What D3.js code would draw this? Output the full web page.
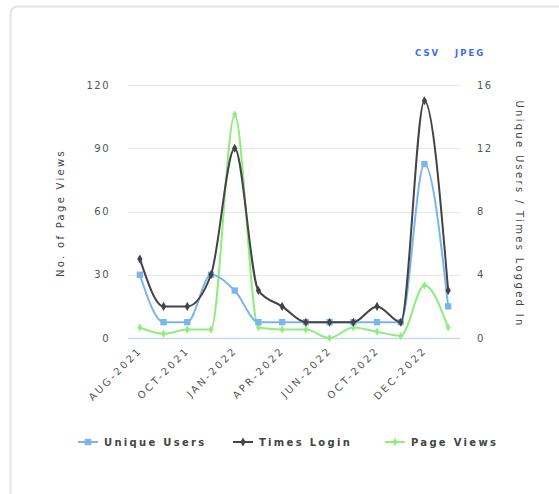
<!DOCTYPE html>
<html>
<head>
<meta charset="utf-8">
<script src="https://cdn.jsdelivr.net/npm/d3@7"></script>
<style>
  html, body { margin: 0; padding: 0; background: #fff; }
  body { width: 559px; height: 494px; overflow: hidden; }
  svg text { font-family: "DejaVu Sans", sans-serif; }
</style>
</head>
<body>
<svg id="chart" width="559" height="494"></svg>
<script>
// Months on the x axis (every other one is labelled)
var months = ["AUG-2021", "SEP-2021", "OCT-2021", "NOV-2021", "JAN-2022", "MAR-2022", "APR-2022",
  "MAY-2022", "JUN-2022", "AUG-2022", "OCT-2022", "NOV-2022", "DEC-2022", "JAN-2023"];
var uniqueUsers = [4, 1, 1, 4, 3, 1, 1, 1, 1, 1, 1, 1, 11, 2];
var timesLogin = [5, 2, 2, 4, 12, 3, 2, 1, 1, 1, 2, 1, 15, 3];
var pageViews = [5, 2, 4, 4, 106, 5, 4, 4, 0, 5, 3, 1, 25, 5];
var leftTicks = [0, 30, 60, 90, 120];
var rightTicks = [0, 4, 8, 12, 16];

var drawChart = function() {
  var svg = d3.select("#chart");

  // card outline
  svg.append("rect")
    .attr("x", 10.5).attr("y", 6.5)
    .attr("width", 600).attr("height", 520)
    .attr("rx", 7)
    .attr("fill", "#fff")
    .attr("stroke", "#e3e3e3")
    .attr("stroke-width", 2);

  var plotLeft = 128, plotRight = 460, plotTop = 85, plotBottom = 338;

  var x = d3.scalePoint().domain(months).range([plotLeft, plotRight]).padding(0.5);
  var yLeft = d3.scaleLinear().domain([0, 120]).range([plotBottom, plotTop]);
  var yRight = d3.scaleLinear().domain([0, 16]).range([plotBottom, plotTop]);

  // grid lines
  svg.append("g").selectAll("line")
    .data(leftTicks)
    .enter().append("line")
    .attr("x1", plotLeft).attr("x2", plotRight)
    .attr("y1", function(d) { return Math.round(yLeft(d)) + 0.5; })
    .attr("y2", function(d) { return Math.round(yLeft(d)) + 0.5; })
    .attr("stroke", function(d) { return d === 0 ? "#ccd6eb" : "#e6e6e6"; })
    .attr("stroke-width", function(d) { return d === 0 ? 1.5 : 1; });

  // left axis labels
  svg.append("g").selectAll("text")
    .data(leftTicks)
    .enter().append("text")
    .attr("x", 110)
    .attr("y", function(d) { return yLeft(d) + 3.5; })
    .attr("text-anchor", "end")
    .attr("font-size", "10px")
    .attr("letter-spacing", "1.5px")
    .attr("fill", "#555")
    .text(function(d) { return d; });

  // right axis labels
  svg.append("g").selectAll("text")
    .data(rightTicks)
    .enter().append("text")
    .attr("x", 477)
    .attr("y", function(d) { return yRight(d) + 3.5; })
    .attr("text-anchor", "start")
    .attr("font-size", "10px")
    .attr("letter-spacing", "1.5px")
    .attr("fill", "#555")
    .text(function(d) { return d; });

  // axis titles
  svg.append("text")
    .attr("transform", "translate(64,213) rotate(-90)")
    .attr("text-anchor", "middle")
    .attr("font-size", "10px")
    .attr("letter-spacing", "2.3px")
    .attr("fill", "#444")
    .text("No. of Page Views");

  svg.append("text")
    .attr("transform", "translate(516,214) rotate(90)")
    .attr("text-anchor", "middle")
    .attr("font-size", "10px")
    .attr("letter-spacing", "2.3px")
    .attr("fill", "#444")
    .text("Unique Users / Times Logged In");

  // x labels, every other month
  svg.append("g").selectAll("text")
    .data(months.filter(function(d, i) { return i % 2 === 0; }))
    .enter().append("text")
    .attr("transform", function(d) { return "translate(" + (x(d) + 3) + ",351) rotate(-45)"; })
    .attr("text-anchor", "end")
    .attr("font-size", "10px")
    .attr("letter-spacing", "2.5px")
    .attr("fill", "#555")
    .text(function(d) { return d; });

  // export links
  svg.append("text")
    .attr("x", 415).attr("y", 56)
    .attr("font-size", "8.5px").attr("font-weight", "bold")
    .attr("letter-spacing", "2px")
    .attr("fill", "#3b6cf0")
    .text("CSV");
  svg.append("text")
    .attr("x", 455).attr("y", 56)
    .attr("font-size", "8.5px").attr("font-weight", "bold")
    .attr("letter-spacing", "2px")
    .attr("fill", "#3b6cf0")
    .text("JPEG");

  var series = [
    {name: "Unique Users", values: uniqueUsers, scale: yRight, color: "#7cb5ec", symbol: d3.symbolSquare, size: 40},
    {name: "Times Login", values: timesLogin, scale: yRight, color: "#434348", symbol: d3.symbolDiamond, size: 24},
    {name: "Page Views", values: pageViews, scale: yLeft, color: "#90ed7d", symbol: d3.symbolDiamond, size: 20}
  ];

  // draw page views first so the others sit on top
  [series[2], series[0], series[1]].forEach(function(s) {
    var line = d3.line()
      .x(function(d, i) { return x(months[i]); })
      .y(function(d) { return s.scale(d); })
      .curve(d3.curveMonotoneX);

    var g = svg.append("g");
    g.append("path")
      .datum(s.values)
      .attr("d", line)
      .attr("fill", "none")
      .attr("stroke", s.color)
      .attr("stroke-width", 2);

    g.selectAll("path.marker")
      .data(s.values)
      .enter().append("path")
      .attr("class", "marker")
      .attr("d", d3.symbol().type(s.symbol).size(s.size))
      .attr("transform", function(d, i) {
        return "translate(" + x(months[i]) + "," + s.scale(d) + ")";
      })
      .attr("fill", s.color);
  });

  // legend
  var legendX = [78, 233, 385];
  var legend = svg.append("g").selectAll("g")
    .data(series)
    .enter().append("g")
    .attr("transform", function(d, i) { return "translate(" + legendX[i] + ",442)"; });

  legend.append("line")
    .attr("x1", 0).attr("x2", 20)
    .attr("stroke", function(d) { return d.color; })
    .attr("stroke-width", 2);

  legend.append("path")
    .attr("d", function(d) { return d3.symbol().type(d.symbol).size(d.size)(); })
    .attr("transform", "translate(10,0)")
    .attr("fill", function(d) { return d.color; });

  legend.append("text")
    .attr("x", 26)
    .attr("y", 4)
    .attr("font-size", "10px")
    .attr("font-weight", "bold")
    .attr("letter-spacing", "2.3px")
    .attr("fill", "#444")
    .text(function(d) { return d.name; });
};

drawChart();
</script>
</body>
</html>
